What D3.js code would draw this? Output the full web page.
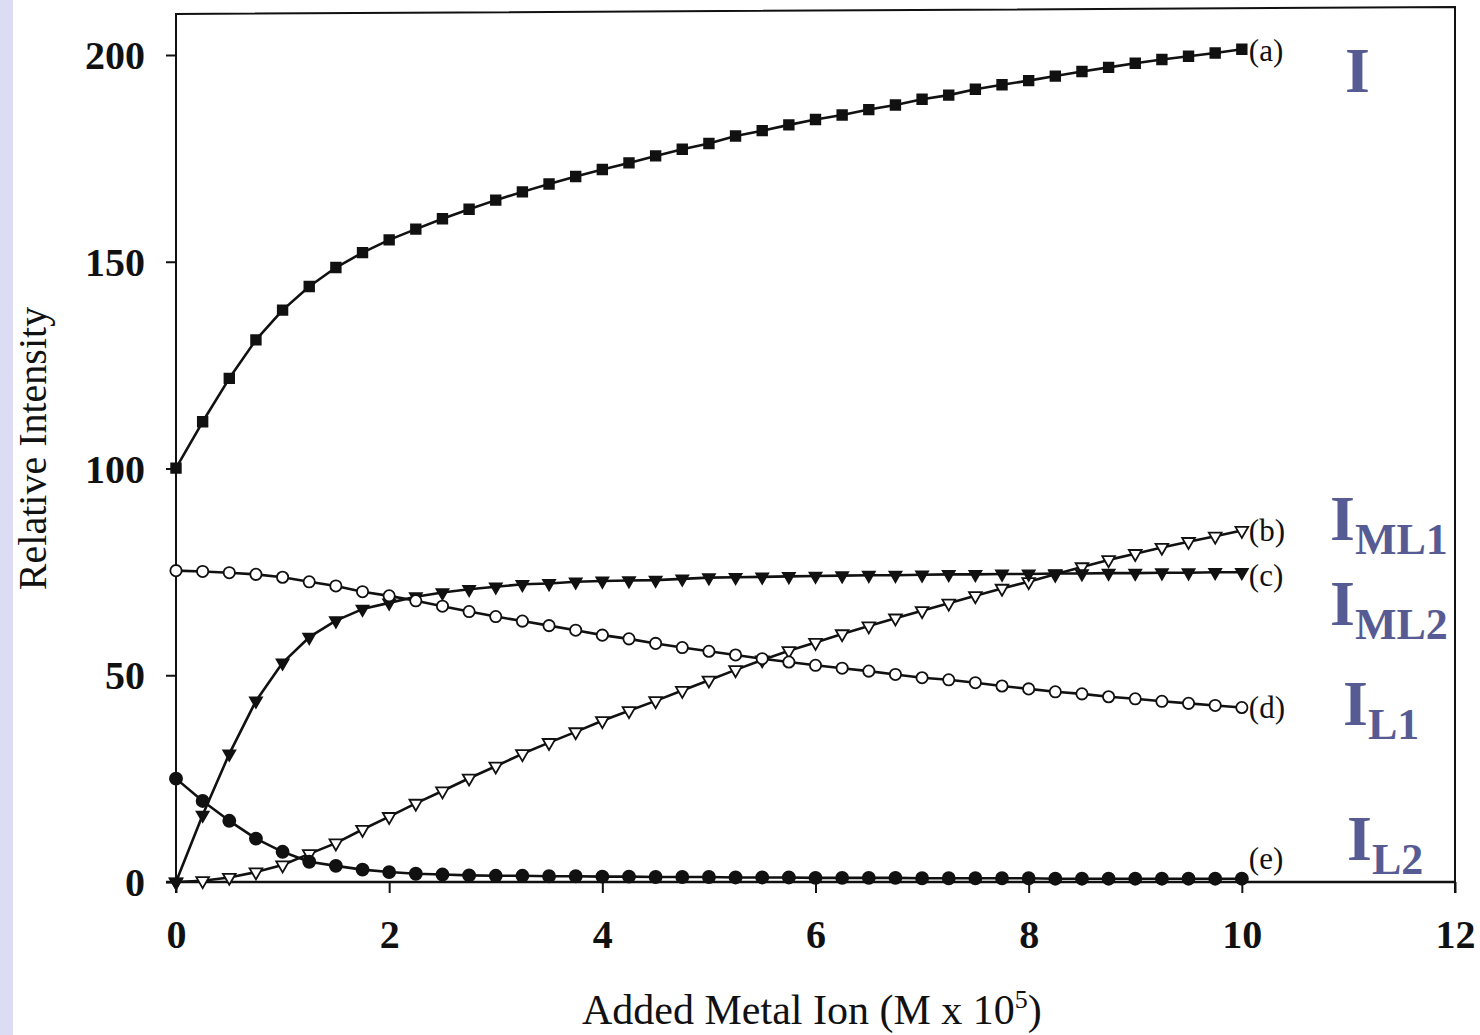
<!DOCTYPE html>
<html>
<head>
<meta charset="utf-8">
<script src="https://cdn.jsdelivr.net/npm/d3@7"></script>
<style>
  html, body { margin: 0; padding: 0; background: #ffffff; }
  svg { display: block; }
</style>
</head>
<body>
<svg id="chart" width="1480" height="1035"></svg>
<script>
// Added metal ion concentration (M x 10^5)
const addedMetal = [0, 0.25, 0.5, 0.75, 1, 1.25, 1.5, 1.75, 2, 2.25, 2.5, 2.75, 3, 3.25, 3.5, 3.75,
  4, 4.25, 4.5, 4.75, 5, 5.25, 5.5, 5.75, 6, 6.25, 6.5, 6.75, 7, 7.25, 7.5, 7.75,
  8, 8.25, 8.5, 8.75, 9, 9.25, 9.5, 9.75, 10];

// (a) total intensity I
const intensityTotal = [100.1, 111.3, 121.8, 131.1, 138.3, 144.0, 148.6, 152.2, 155.3, 157.9, 160.4,
  162.7, 164.9, 166.9, 168.8, 170.6, 172.3, 173.9, 175.6, 177.2, 178.6, 180.4, 181.7, 183.1, 184.4,
  185.5, 186.8, 187.9, 189.3, 190.3, 191.7, 192.8, 193.8, 194.9, 196.0, 197.0, 198.0, 198.9, 199.7,
  200.5, 201.4];

// (b) I_ML1
const intensityML1 = [0, 0.3, 1.1, 2.4, 4.1, 6.8, 9.4, 12.7, 15.8, 19.0, 22.0, 25.1, 28.0, 31.0,
  33.7, 36.3, 39.0, 41.4, 43.8, 46.3, 48.8, 51.3, 53.7, 55.9, 57.9, 60.0, 61.9, 63.8, 65.6, 67.4,
  69.2, 71.0, 72.6, 74.4, 76.2, 77.9, 79.4, 80.9, 82.3, 83.6, 85.0];

// (c) I_ML2
const intensityML2 = [0, 16.2, 31.0, 43.8, 53.0, 59.2, 63.2, 66.0, 67.5, 69.0, 70.0, 70.8, 71.4,
  72.0, 72.2, 72.6, 72.8, 72.9, 73.0, 73.3, 73.6, 73.7, 73.8, 73.9, 74.0, 74.1, 74.2, 74.2, 74.3,
  74.4, 74.4, 74.5, 74.5, 74.6, 74.6, 74.7, 74.7, 74.8, 74.8, 74.9, 74.9];

// (d) I_L1
const intensityL1 = [75.3, 75.1, 74.8, 74.4, 73.7, 72.6, 71.6, 70.2, 69.2, 68.0, 66.7, 65.4, 64.2,
  63.1, 62.0, 60.9, 59.7, 58.8, 57.7, 56.7, 55.8, 54.9, 54.0, 53.2, 52.4, 51.7, 51.0, 50.2, 49.4,
  48.9, 48.2, 47.4, 46.7, 46.0, 45.5, 44.8, 44.3, 43.7, 43.2, 42.7, 42.2];

// (e) I_L2
const intensityL2 = [25.0, 19.6, 14.8, 10.5, 7.3, 4.9, 3.9, 3.0, 2.4, 2.0, 1.8, 1.6, 1.5, 1.5,
  1.4, 1.4, 1.3, 1.3, 1.2, 1.2, 1.2, 1.1, 1.1, 1.1, 1.0, 1.0, 1.0, 1.0, 0.9, 0.9, 0.9, 0.9, 0.9,
  0.8, 0.8, 0.8, 0.8, 0.8, 0.8, 0.8, 0.8];

const xTickValues = [0, 2, 4, 6, 8, 10, 12];
const yTickValues = [0, 50, 100, 150, 200];
const curveTags = ["(a)", "(b)", "(c)", "(d)", "(e)"];
const speciesMain = ["I", "I", "I", "I", "I"];
const speciesSub = ["", "ML1", "ML2", "L1", "L2"];
const xTitle = "Added Metal Ion (M x 10";
const xTitleSup = "5";
const yTitle = "Relative Intensity";

// ---- layout ----
const serif = "'Liberation Serif', 'Times New Roman', serif";
const ink = "#111111";
const speciesColor = "#575b93";
const svg = d3.select("#chart");

const x = d3.scaleLinear().domain([0, 12]).range([176, 1455]);
const y = d3.scaleLinear().domain([0, 200]).range([882, 55]);

// light side strip
svg.append("rect").attr("x", 0).attr("y", 0).attr("width", 13).attr("height", 1035)
  .attr("fill", "#dcdcf5");

// frame (slightly skewed top edge as printed)
svg.append("path")
  .attr("d", `M${x(0)},${y(0) + 11} L${x(0)},14 L${x(12)},7 L${x(12)},${y(0) + 11}`)
  .attr("fill", "none").attr("stroke", ink).attr("stroke-width", 2);
svg.append("line")
  .attr("x1", x(0) - 10).attr("x2", x(12)).attr("y1", y(0)).attr("y2", y(0))
  .attr("stroke", ink).attr("stroke-width", 2.4);

// axes
const yAxis = svg.append("g").attr("transform", `translate(${x(0)},0)`)
  .call(d3.axisLeft(y).tickValues(yTickValues).tickSize(10).tickSizeOuter(0).tickPadding(21));
const xAxis = svg.append("g").attr("transform", `translate(0,${y(0)})`)
  .call(d3.axisBottom(x).tickValues(xTickValues).tickSize(11).tickSizeOuter(0));
[yAxis, xAxis].forEach(g => {
  g.select(".domain").remove();
  g.selectAll(".tick line").attr("stroke", ink).attr("stroke-width", 2);
  g.selectAll(".tick text").attr("fill", ink)
    .style("font-family", serif).style("font-weight", "bold").style("font-size", "40px");
});
yAxis.selectAll(".tick text").attr("dy", "0.34em");
xAxis.selectAll(".tick text").attr("y", 66).attr("dy", null);

// axis titles
svg.append("text")
  .attr("transform", `translate(46,${(y(0) + y(200)) / 2 - 20}) rotate(-90)`)
  .attr("text-anchor", "middle").attr("fill", ink)
  .style("font-family", serif).style("font-size", "40px")
  .text(yTitle);
const xt = svg.append("text")
  .attr("x", 582).attr("y", 1024).attr("fill", ink)
  .style("font-family", serif).style("font-size", "42px");
xt.append("tspan").text(xTitle);
xt.append("tspan").attr("dy", -16).style("font-size", "26px").text(xTitleSup);
xt.append("tspan").attr("dy", 16).text(")");

// series
const series = [
  { values: intensityTotal, symbol: d3.symbolSquare, size: 92, rotate: 0, fill: ink },
  { values: intensityML1, symbol: d3.symbolTriangle, size: 70, rotate: 180, fill: "#ffffff" },
  { values: intensityML2, symbol: d3.symbolTriangle, size: 62, rotate: 180, fill: ink },
  { values: intensityL1, symbol: d3.symbolCircle, size: 100, rotate: 0, fill: "#ffffff" },
  { values: intensityL2, symbol: d3.symbolCircle, size: 115, rotate: 0, fill: ink }
];

const line = d3.line().x(d => x(d[0])).y(d => y(d[1]));

series.forEach(s => {
  const pts = addedMetal.map((m, i) => [m, s.values[i]]);
  svg.append("path").datum(pts).attr("d", line)
    .attr("fill", "none").attr("stroke", ink).attr("stroke-width", 2.6)
    .attr("stroke-linejoin", "round");
});

series.forEach(s => {
  const pts = addedMetal.map((m, i) => [m, s.values[i]]);
  svg.append("g").selectAll("path").data(pts).join("path")
    .attr("d", d3.symbol().type(s.symbol).size(s.size))
    .attr("transform", d => `translate(${x(d[0])},${y(d[1])}) rotate(${s.rotate})`)
    .attr("fill", s.fill).attr("stroke", ink).attr("stroke-width", 1.8);
});

// end-of-curve tags
const tagShift = [2, 0, 4, 0, -20];
series.forEach((s, i) => {
  const last = s.values[s.values.length - 1];
  svg.append("text")
    .attr("x", x(addedMetal[addedMetal.length - 1]) + 7)
    .attr("y", y(last) + tagShift[i] + 10)
    .attr("fill", ink)
    .style("font-family", serif).style("font-size", "31px")
    .text(curveTags[i]);
});

// species labels
const speciesPos = [[1345, 92], [1330, 540], [1330, 625], [1343, 725], [1347, 860]];
speciesMain.forEach((m, i) => {
  const t = svg.append("text")
    .attr("x", speciesPos[i][0]).attr("y", speciesPos[i][1])
    .attr("fill", speciesColor)
    .style("font-family", serif).style("font-weight", "bold").style("font-size", "64px");
  t.append("tspan").text(m);
  if (speciesSub[i]) {
    t.append("tspan").attr("dy", 14).style("font-size", "44px").text(speciesSub[i]);
  }
});
</script>
</body>
</html>
